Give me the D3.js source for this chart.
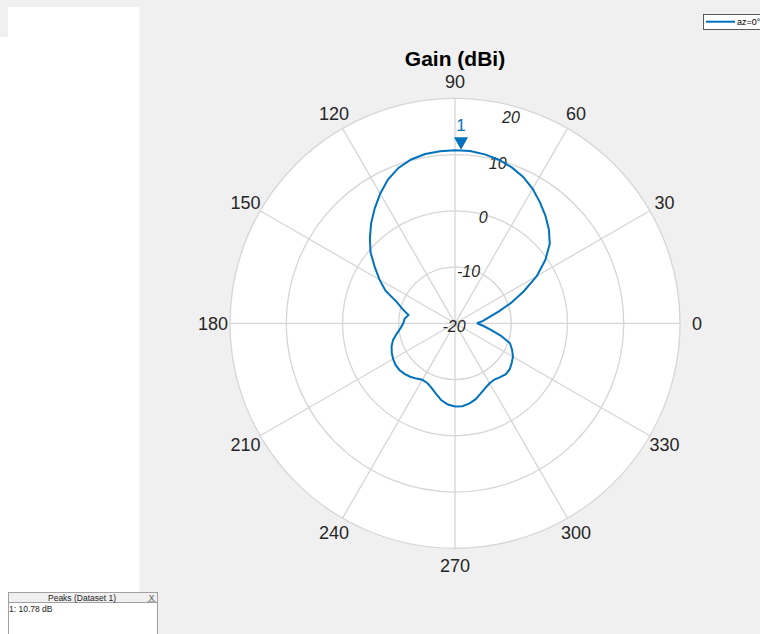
<!DOCTYPE html>
<html><head><meta charset="utf-8">
<script src="https://cdn.jsdelivr.net/npm/d3@7"></script>
<style>
html,body{margin:0;padding:0;background:#f0f0f0;overflow:hidden;}
svg{display:block;font-family:"Liberation Sans",Arial,Helvetica,sans-serif;}
</style></head>
<body>
<svg id="chart" width="760" height="634"></svg>
<script>
// ---- data ----
const angles = [0,5,10,15,20,25,30,35,40,45,50,55,60,65,70,75,80,85,90,95,100,105,110,115,120,125,130,135,140,145,150,155,160,165,170,175,180,185,190,195,200,205,210,215,220,225,230,235,240,245,250,255,260,265,270,275,280,285,290,295,300,305,310,315,320,325,330,335,340,345,350,355,360];
const gain = [-16.1,-15.0,-13.9,-12.0,-9.4,-6.5,-3.2,-0.4,2.0,3.6,5.0,6.3,7.6,8.7,9.5,10.1,10.5,10.75,10.76,10.7,10.55,10.15,9.4,8.2,6.6,4.9,3.2,1.4,-0.4,-2.6,-4.5,-6.4,-9.0,-10.4,-11.6,-11.0,-10.8,-10.3,-9.5,-8.6,-8.0,-7.6,-7.3,-7.1,-7.1,-7.3,-7.6,-8.0,-8.4,-8.3,-7.8,-7.0,-6.1,-5.5,-5.2,-5.2,-5.5,-6.0,-6.7,-7.3,-7.7,-7.8,-7.5,-7.2,-7.3,-7.7,-8.1,-8.8,-9.6,-11.6,-13.6,-15.0,-16.1];
const radialTicks = [-20,-10,0,10,20];
const angleTicks = [0,30,60,90,120,150,180,210,240,270,300,330];
const peakAngle = [88];
const peakValue = [10.78];
const titleText = "Gain (dBi)";
const legendText = "az=0°";
const peaksTitle = "Peaks (Dataset 1)";
const peaksRows = ["1: 10.78 dB"];

// ---- layout ----
const svg = d3.select("#chart");
const cx = 455, cy = 323.3, R = 225;
const rScale = d3.scaleLinear().domain([-20,20]).range([0,R]);
const aScale = d3.scaleLinear().domain([0,360]).range([0,2*Math.PI]);
const px = (a,r) => cx + r*Math.cos(aScale(a));
const py = (a,r) => cy - r*Math.sin(aScale(a));

// left white panel
svg.append("rect").attr("x",8).attr("y",7).attr("width",131).attr("height",40).attr("fill","#ffffff");
svg.append("rect").attr("x",0).attr("y",37).attr("width",139).attr("height",600).attr("fill","#ffffff");
svg.append("line").attr("x1",139.5).attr("x2",139.5).attr("y1",7).attr("y2",634).attr("stroke","#f7f7f7").attr("stroke-width",1);

// polar background
svg.append("circle").attr("cx",cx).attr("cy",cy).attr("r",R).attr("fill","#ffffff");

const grid = svg.append("g").attr("fill","none").attr("stroke","#d6d6d6").attr("stroke-width",1.3);
angleTicks.forEach(a=>{
  grid.append("line").attr("x1",cx).attr("y1",cy).attr("x2",px(a,R)).attr("y2",py(a,R));
});
radialTicks.filter(v=>v>-20).forEach(v=>{
  grid.append("circle").attr("cx",cx).attr("cy",cy).attr("r",rScale(v));
});

// angle labels
svg.append("g").selectAll("text").data(angleTicks).join("text")
  .attr("x",a=>px(a,R+17)).attr("y",a=>py(a,R+17)+0.5)
  .attr("text-anchor","middle").attr("dominant-baseline","central")
  .attr("font-size",18).attr("fill","#262626").text(d=>d);

// radial labels
svg.append("g").selectAll("text").data(radialTicks).join("text")
  .attr("x",v=>px(75, v===20 ? rScale(v)-9 : rScale(v)) - (v===20?0:1))
  .attr("y",v=>py(75, v===20 ? rScale(v)-9 : rScale(v)) + 3)
  .attr("text-anchor","middle").attr("dominant-baseline","central")
  .attr("font-size",16).attr("font-style","italic").attr("fill","#262626").text(d=>d);

// pattern line
const pts = angles.map((a,i)=>[px(a,rScale(gain[i])), py(a,rScale(gain[i]))]);
svg.append("path").attr("d",d3.line().curve(d3.curveLinear)(pts))
  .attr("fill","none").attr("stroke","#0072BD").attr("stroke-width",2);

// peak marker
peakAngle.forEach((a,i)=>{
  const x = px(a,rScale(peakValue[i])), y = py(a,rScale(peakValue[i]));
  svg.append("path").attr("d",`M${x},${y-0.5} L${x-7},${y-13} L${x+7},${y-13} Z`).attr("fill","#0072BD");
  svg.append("text").attr("x",x).attr("y",y-25).attr("text-anchor","middle").attr("dominant-baseline","central")
    .attr("font-size",17).attr("fill","#0072BD").text(i+1);
});

// title
svg.append("text").attr("x",cx).attr("y",58).attr("text-anchor","middle").attr("dominant-baseline","central")
  .attr("font-size",21).attr("font-weight","bold").attr("fill","#000").text(titleText);

// legend
const lg = svg.append("g");
lg.append("rect").attr("x",703.5).attr("y",14.5).attr("width",70).attr("height",15).attr("fill","#fff").attr("stroke","#333").attr("stroke-width",0.8);
lg.append("line").attr("x1",706).attr("x2",735).attr("y1",21.7).attr("y2",21.7).attr("stroke","#0072BD").attr("stroke-width",2);
lg.append("text").attr("x",737).attr("y",22).attr("dominant-baseline","central").attr("font-size",9).attr("fill","#000").text(legendText);

// peaks table
const pk = svg.append("g");
pk.append("rect").attr("x",8.5).attr("y",592.5).attr("width",149).attr("height",50).attr("fill","#fff").attr("stroke","#a0a0a0");
pk.append("rect").attr("x",9).attr("y",593).attr("width",148).attr("height",9.5).attr("fill","#f0f0f0");
pk.append("line").attr("x1",9).attr("x2",157).attr("y1",602.5).attr("y2",602.5).attr("stroke","#a0a0a0");
pk.append("text").attr("x",82).attr("y",598).attr("text-anchor","middle").attr("dominant-baseline","central").attr("font-size",8.5).attr("fill","#222").text(peaksTitle);
pk.append("text").attr("x",151.5).attr("y",598).attr("text-anchor","middle").attr("dominant-baseline","central").attr("font-size",8.5).attr("fill","#555").text("X");
pk.append("line").attr("x1",147).attr("x2",156).attr("y1",601.5).attr("y2",601.5).attr("stroke","#888").attr("stroke-width",0.6);
pk.selectAll("text.row").data(peaksRows).join("text").attr("class","row")
  .attr("x",9).attr("y",(d,i)=>609+i*10).attr("dominant-baseline","central").attr("font-size",8.5).attr("fill","#222").text(d=>d);
</script>
</body></html>
